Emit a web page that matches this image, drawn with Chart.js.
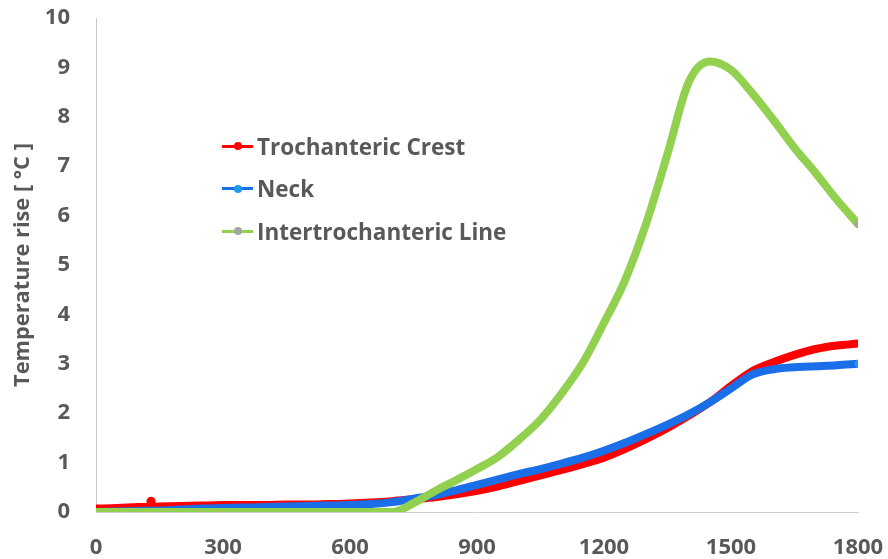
<!DOCTYPE html>
<html>
<head>
<meta charset="utf-8">
<script src="https://cdn.jsdelivr.net/npm/chart.js@4.4.1/dist/chart.umd.min.js"></script>
<style>
    html, body { margin: 0; padding: 0; background: #ffffff; }
    #wrap { position: relative; width: 888px; height: 559px; }
    #legend { position: absolute; left: 222px; top: 125px; font-family: 'Open Sans', sans-serif; font-weight: bold; font-size: 22.5px; color: #595959; }
    .row { height: 42.5px; display: flex; align-items: center; white-space: nowrap; }
    .mark { position: relative; width: 31px; height: 3px; margin-right: 4px; }
    .mark i { position: absolute; left: 12px; top: -2.5px; width: 8px; height: 8px; border-radius: 50%; }
</style>
</head>
<body>
<div id="wrap">
    <canvas id="tempChart" width="888" height="559"></canvas>
    <div id="legend"></div>
</div>
<script>
// time in seconds
const times = [0, 50, 100, 150, 200, 250, 300, 350, 400, 450, 500, 550, 600, 650, 700, 750, 800, 850, 900,
    950, 1000, 1050, 1100, 1150, 1200, 1250, 1300, 1350, 1400, 1450, 1500, 1550, 1600, 1650, 1700, 1750, 1800];

const crestValues = [0.07, 0.08, 0.1, 0.11, 0.12, 0.13, 0.14, 0.14, 0.14, 0.15, 0.15, 0.16, 0.17, 0.19, 0.22, 0.26, 0.3, 0.36, 0.43,
    0.52, 0.63, 0.74, 0.85, 0.97, 1.1, 1.28, 1.48, 1.7, 1.95, 2.22, 2.55, 2.85, 3.03, 3.18, 3.3, 3.37, 3.41];

const neckValues = [0.0, 0.01, 0.02, 0.03, 0.05, 0.07, 0.08, 0.09, 0.1, 0.11, 0.12, 0.13, 0.14, 0.16, 0.2, 0.27, 0.34, 0.44, 0.55,
    0.66, 0.77, 0.87, 0.98, 1.1, 1.24, 1.4, 1.58, 1.77, 1.98, 2.22, 2.5, 2.78, 2.89, 2.93, 2.95, 2.97, 3.0];

const lineValues = [0, 0, 0, 0, 0, 0, 0, 0, 0, 0, 0, 0, 0, 0, 0, 0.18, 0.42, 0.64, 0.87,
    1.12, 1.47, 1.87, 2.4, 3.02, 3.83, 4.7, 5.85, 7.25, 8.7, 9.12, 8.95, 8.48, 7.94, 7.37, 6.86, 6.32, 5.83];

// single outlier reading on the crest sensor
const crestSpikeTime = [130];
const crestSpikeValue = [0.22];

const xTicks = [0, 300, 600, 900, 1200, 1500, 1800];
const yTicks = [0, 1, 2, 3, 4, 5, 6, 7, 8, 9, 10];

const seriesNames = ['Trochanteric Crest', 'Neck', 'Intertrochanteric Line'];
const lineColors = ['#ff0000', '#1a6fe8', '#92d050'];
const dotColors = ['#ff0000', '#1e9af0', '#a5a5a5'];

const GREY = '#595959';
Chart.defaults.font.family = "'Open Sans', sans-serif";
Chart.defaults.font.weight = 'bold';
Chart.defaults.color = GREY;

const toPoints = (vals) => vals.map((v, i) => ({ x: times[i], y: v }));
const endDot = (n, r) => Array.from({ length: n }, (_, i) => (i === n - 1 ? r : 0));

const makeSet = (idx, vals, order) => ({
    label: seriesNames[idx],
    data: toPoints(vals),
    borderColor: lineColors[idx],
    backgroundColor: dotColors[idx],
    borderWidth: 8,
    borderCapStyle: 'round',
    borderJoinStyle: 'round',
    cubicInterpolationMode: 'monotone',
    pointRadius: endDot(vals.length, 3.5),
    pointBorderWidth: 0,
    pointBackgroundColor: dotColors[idx],
    order: order
});

const datasets = [
    makeSet(0, crestValues, 3),
    makeSet(1, neckValues, 2),
    makeSet(2, lineValues, 1),
    {
        label: 'spike',
        data: crestSpikeTime.map((t, i) => ({ x: t, y: crestSpikeValue[i] })),
        showLine: false,
        pointRadius: 4.5,
        pointBorderWidth: 0,
        pointBackgroundColor: lineColors[0],
        order: 4
    }
];

const ctx = document.getElementById('tempChart').getContext('2d');
new Chart(ctx, {
    type: 'line',
    data: { datasets: datasets },
    options: {
        responsive: false,
        animation: false,
        devicePixelRatio: 1,
        layout: { padding: { left: 0, right: 30, top: 18, bottom: 0 } },
        plugins: {
            legend: { display: false },
            tooltip: { enabled: false }
        },
        scales: {
            x: {
                type: 'linear',
                min: 0,
                max: 1800,
                afterBuildTicks: (scale) => { scale.ticks = xTicks.map(v => ({ value: v })); },
                afterFit: (scale) => {
                    scale.height = 47;
                    scale.paddingLeft = 0;
                    scale.paddingRight = 0;
                },
                ticks: { font: { size: 22, weight: 'bold' }, color: GREY, padding: 23, maxRotation: 0,
                    callback: (v) => String(v) },
                grid: { display: false, drawTicks: false },
                border: { display: true, color: '#d0d0d0', width: 1 }
            },
            y: {
                min: 0,
                max: 10,
                afterBuildTicks: (scale) => { scale.ticks = yTicks.map(v => ({ value: v })); },
                afterFit: (scale) => {
                    scale.width = 96;
                    scale.paddingTop = 0;
                    scale.paddingBottom = 0;
                },
                ticks: { font: { size: 22, weight: 'bold' }, color: GREY, padding: 26 },
                grid: { display: false, drawTicks: false },
                border: { display: true, color: '#c8c8c8', width: 1 },
                title: {
                    display: true,
                    text: 'Temperature rise [ °C ]',
                    font: { size: 21.8, weight: 'bold' },
                    color: GREY,
                    padding: { top: 10, bottom: 0 }
                }
            }
        }
    }
});

// legend sits inside the plot, like the original
let html = '';
seriesNames.forEach((name, i) => {
    html += `<div class="row"><span class="mark" style="background:${lineColors[i]}"><i style="background:${dotColors[i]}"></i></span>${name}</div>`;
});
document.getElementById('legend').innerHTML = html;
</script>
</body>
</html>
